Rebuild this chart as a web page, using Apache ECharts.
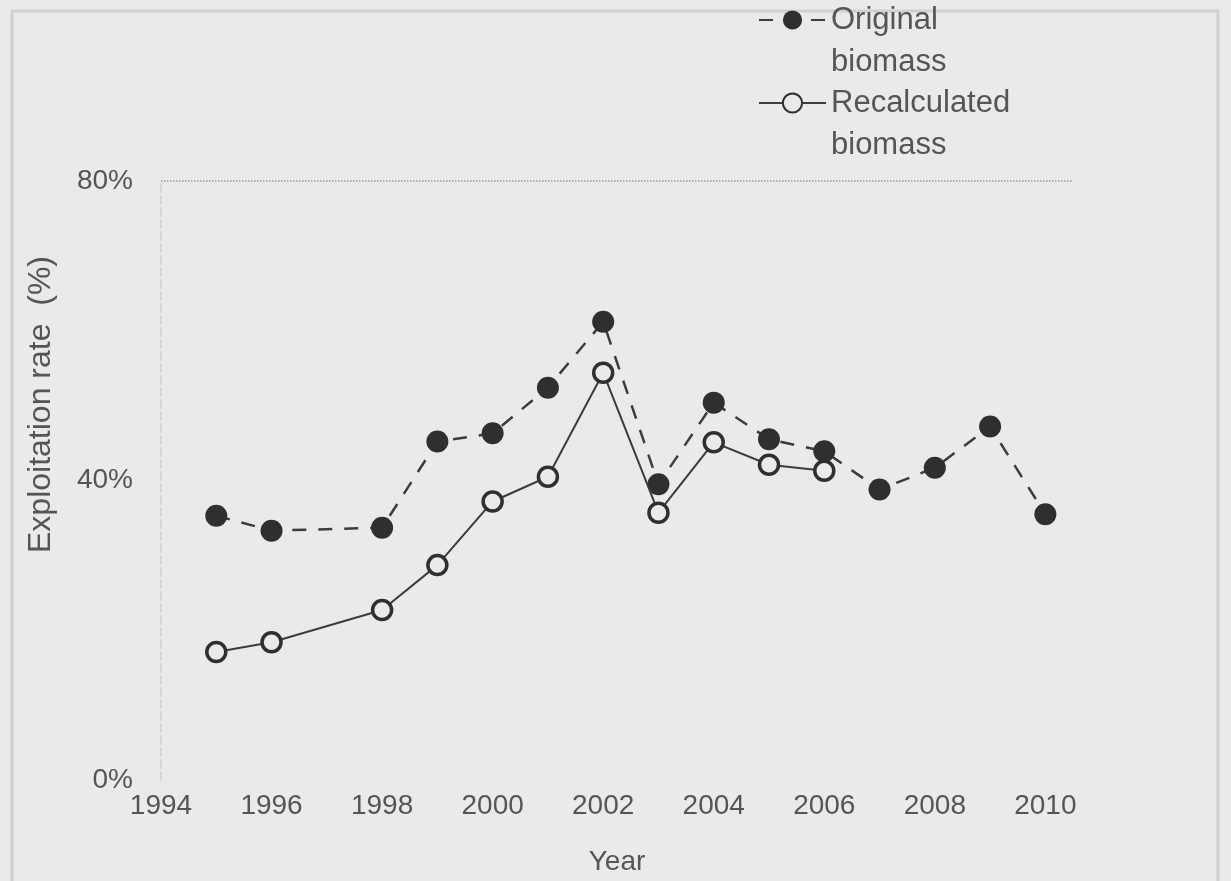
<!DOCTYPE html>
<html>
<head>
<meta charset="utf-8">
<script src="https://cdn.jsdelivr.net/npm/echarts@6/dist/echarts.min.js"></script>
<style>
    html, body { margin: 0; padding: 0; background: #ece9e9; }
    #chart { width: 1231px; height: 881px; }
</style>
</head>
<body>
<div id="chart"></div>
<script>
    // data
    let originalYears = [1995, 1996, 1998, 1999, 2000, 2001, 2002, 2003, 2004, 2005, 2006, 2007, 2008, 2009, 2010];
    let originalRate = [35.3, 33.3, 33.7, 45.2, 46.3, 52.4, 61.2, 39.5, 50.4, 45.5, 43.9, 38.8, 41.7, 47.2, 35.5];
    let recalcYears = [1995, 1996, 1998, 1999, 2000, 2001, 2002, 2003, 2004, 2005, 2006];
    let recalcRate = [17.1, 18.4, 22.7, 28.7, 37.2, 40.5, 54.4, 35.7, 45.1, 42.1, 41.3];
    let yTicks = [0, 40, 80];

    let bg = '#ece9e9';
    let myChart = echarts.init(document.getElementById('chart'));

    let originalData = originalYears.map((y, i)=> [y, originalRate[i]]);
    let recalcData = recalcYears.map((y, i)=> [y, recalcRate[i]]);

    let option = {
        backgroundColor: bg,
        animation: false,
        textStyle: {
            fontFamily: 'Liberation Sans, Arial, sans-serif'
        },
        graphic: [{
            type: 'rect',
            shape: {x: 12, y: 11, width: 1206, height: 880},
            style: {fill: 'none', stroke: '#d2cfcf', lineWidth: 3},
            silent: true
        }],
        legend: {
            orient: 'vertical',
            left: 758,
            top: -43,
            padding: 0,
            itemGap: -43,
            itemWidth: 67,
            itemHeight: 24,
            // blank first line so the icon sits level with the first word
            formatter: function (name) {
                return '\n' + name.replace(' ', '\n');
            },
            textStyle: {
                fontSize: 31,
                color: '#555',
                lineHeight: 42
            },
            data: ['Original biomass', 'Recalculated biomass']
        },
        grid: {
            left: 161,
            right: 158,
            top: 181,
            bottom: 100
        },
        xAxis: {
            type: 'value',
            min: 1994,
            max: 2010.5,
            interval: 2,
            name: 'Year',
            nameLocation: 'middle',
            nameGap: 68,
            nameTextStyle: {fontSize: 28, color: '#555'},
            axisLine: {show: false},
            axisTick: {show: false},
            splitLine: {show: false},
            axisLabel: {
                fontSize: 28,
                color: '#555',
                margin: 12,
                showMaxLabel: false,
                formatter: function (v) {
                    return String(v);
                }
            }
        },
        yAxis: {
            type: 'value',
            min: yTicks[0],
            max: yTicks[yTicks.length - 1],
            interval: 40,
            name: 'Exploitation rate  (%)',
            nameLocation: 'middle',
            nameGap: 104,
            nameTextStyle: {fontSize: 32, color: '#555', padding: [0, 0, 0, 152]},
            axisLine: {show: true, lineStyle: {color: '#d8d5d5', type: 'dashed', width: 2}},
            axisTick: {show: false},
            splitLine: {
                show: true,
                lineStyle: {color: ['rgba(0,0,0,0)', 'rgba(0,0,0,0)', '#9a9898'], type: 'dotted', width: 1.5}
            },
            axisLabel: {
                fontSize: 28,
                color: '#555',
                margin: 28,
                formatter: '{value}%'
            }
        },
        series: [{
            name: 'Original biomass',
            type: 'line',
            data: originalData,
            symbol: 'circle',
            symbolSize: 22,
            itemStyle: {color: '#2f2f2f'},
            lineStyle: {color: '#3c3c3c', width: 2.5, type: [14, 12]},
            z: 2
        }, {
            name: 'Recalculated biomass',
            type: 'line',
            data: recalcData,
            symbol: 'circle',
            symbolSize: 19,
            itemStyle: {color: bg, borderColor: '#2f2f2f', borderWidth: 3.5},
            lineStyle: {color: '#3c3c3c', width: 2},
            z: 3
        }]
    };
    myChart.setOption(option);
</script>
</body>
</html>
